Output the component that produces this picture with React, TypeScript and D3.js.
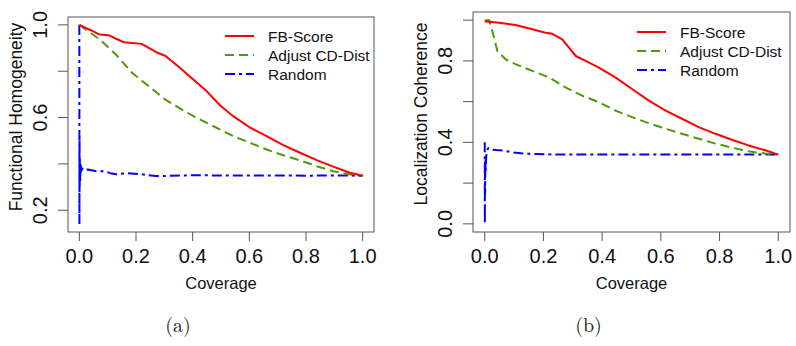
import React from "react";
import * as d3 from "d3";

// ---- panel (a): Functional Homogeneity ----
const fbAX = [0, 0.039, 0.068, 0.107, 0.13, 0.157, 0.22, 0.273, 0.303, 0.356, 0.403, 0.45, 0.497, 0.543, 0.602, 0.661, 0.72, 0.779, 0.838, 0.896, 0.955, 1.0];
const fbAY = [1.0, 0.978, 0.96, 0.954, 0.94, 0.925, 0.918, 0.881, 0.867, 0.814, 0.763, 0.713, 0.652, 0.606, 0.557, 0.52, 0.481, 0.448, 0.416, 0.388, 0.362, 0.349];
const cdAX = [0, 0.074, 0.13, 0.187, 0.245, 0.304, 0.362, 0.403, 0.484, 0.543, 0.602, 0.661, 0.72, 0.779, 0.838, 0.896, 0.955, 1.0];
const cdAY = [1.0, 0.935, 0.871, 0.792, 0.735, 0.677, 0.634, 0.606, 0.556, 0.52, 0.491, 0.462, 0.437, 0.415, 0.39, 0.368, 0.354, 0.349];
const rnAX = [0, 0.0004, 0.0008, 0.0012, 0.002, 0.003, 0.005, 0.007, 0.01, 0.02, 0.03, 0.06, 0.09, 0.11, 0.13, 0.17, 0.22, 0.27, 0.3, 0.4, 0.5, 0.6, 0.7, 0.8, 0.9, 1.0];
const rnAY = [1.0, 0.14, 0.52, 0.3, 0.42, 0.33, 0.395, 0.36, 0.38, 0.372, 0.376, 0.368, 0.368, 0.36, 0.355, 0.36, 0.355, 0.348, 0.348, 0.351, 0.35, 0.35, 0.35, 0.349, 0.35, 0.349];

// ---- panel (b): Localization Coherence ----
const fbBX = [0, 0.049, 0.105, 0.162, 0.207, 0.23, 0.264, 0.287, 0.31, 0.343, 0.389, 0.445, 0.502, 0.559, 0.616, 0.672, 0.729, 0.786, 0.842, 0.899, 0.956, 1.0];
const fbBY = [0.995, 0.987, 0.976, 0.955, 0.938, 0.933, 0.906, 0.865, 0.824, 0.8, 0.767, 0.719, 0.662, 0.605, 0.556, 0.516, 0.475, 0.442, 0.413, 0.385, 0.361, 0.34];
const cdBX = [0, 0.015, 0.026, 0.043, 0.071, 0.105, 0.162, 0.219, 0.275, 0.332, 0.389, 0.445, 0.502, 0.559, 0.616, 0.672, 0.729, 0.786, 0.842, 0.899, 0.956, 1.0];
const cdBY = [1.0, 1.0, 0.946, 0.849, 0.808, 0.784, 0.751, 0.719, 0.67, 0.629, 0.597, 0.556, 0.524, 0.494, 0.467, 0.442, 0.418, 0.394, 0.374, 0.356, 0.345, 0.34];
const rnBX = [0, 0.0004, 0.0008, 0.0015, 0.002, 0.003, 0.005, 0.008, 0.012, 0.02, 0.04, 0.06, 0.08, 0.1, 0.13, 0.18, 0.25, 0.3, 0.4, 0.5, 0.6, 0.7, 0.8, 0.9, 1.0];
const rnBY = [0.4, 0.0, 0.3, 0.15, 0.32, 0.25, 0.33, 0.36, 0.372, 0.365, 0.362, 0.36, 0.355, 0.35, 0.345, 0.343, 0.34, 0.341, 0.34, 0.341, 0.34, 0.34, 0.34, 0.34, 0.34];

const xTicks = [0, 0.2, 0.4, 0.6, 0.8, 1.0];
const yTicksA = [0.2, 0.4, 0.6, 0.8, 1.0];
const yLabelsA = ["0.2", "", "0.6", "", "1.0"];
const yTicksB = [0.0, 0.2, 0.4, 0.6, 0.8, 1.0];
const yLabelsB = ["0.0", "", "0.4", "", "0.8", ""];
const seriesNames = ["FB-Score", "Adjust CD-Dist", "Random"];

const COLORS = ["#ff0000", "#4e9a06", "#0000ff"];
const DASHES = [null, "9 5", "10 4 3 4"];
const SANS = "'Liberation Sans', Arial, sans-serif";
const AXIS = "#555";

const zip = (xs: number[], ys: number[]) => xs.map((x, i) => [x, ys[i]] as [number, number]);

function Panel({ box, yDomain, yTicks, yLabels, yTitle, yTitleY, series, legend, caption }: any) {
  const x = d3.scaleLinear().domain([-0.04, 1.04]).range([box.left, box.right]);
  const y = d3.scaleLinear().domain(yDomain).range([box.bottom, box.top]);
  const line = d3.line<[number, number]>().x((d) => x(d[0])).y((d) => y(d[1]));
  const cx = (box.left + box.right) / 2;

  return (
    <g>
      {/* plot box */}
      <rect x={box.left} y={box.top} width={box.right - box.left} height={box.bottom - box.top}
        fill="none" stroke={AXIS} strokeWidth={1} />

      {/* series, drawn bottom-up so red sits on top */}
      {[2, 1, 0].map((i) => (
        <path key={i} d={line(series[i]) || ""} fill="none" stroke={COLORS[i]} strokeWidth={2}
          strokeDasharray={DASHES[i] || undefined} strokeLinejoin="round" />
      ))}

      {/* x axis */}
      {xTicks.map((t) => (
        <g key={t}>
          <line x1={x(t)} x2={x(t)} y1={box.bottom} y2={box.bottom + 9} stroke={AXIS} />
          <text x={x(t)} y={box.bottom + 31} textAnchor="middle" fontSize={20} fontFamily={SANS} fill="#111">
            {d3.format(".1f")(t)}
          </text>
        </g>
      ))}
      <text x={cx} y={box.bottom + 57} textAnchor="middle" fontSize={16.5} fontFamily={SANS} fill="#111">
        Coverage
      </text>

      {/* y axis */}
      {yTicks.map((t: number, i: number) => (
        <g key={t}>
          <line x1={box.left - 10} x2={box.left} y1={y(t)} y2={y(t)} stroke={AXIS} />
          {yLabels[i] && (
            <text transform={`translate(${box.left - 21},${y(t)}) rotate(-90)`} textAnchor="middle"
              fontSize={20} fontFamily={SANS} fill="#111">
              {yLabels[i]}
            </text>
          )}
        </g>
      ))}
      <text transform={`translate(${box.left - 46},${yTitleY}) rotate(-90)`} textAnchor="middle"
        fontSize={17.5} fontFamily={SANS} fill="#111">
        {yTitle}
      </text>

      {/* legend */}
      {seriesNames.map((name, i) => (
        <g key={name}>
          <line x1={legend.x} x2={legend.x + 29} y1={legend.y + i * 19} y2={legend.y + i * 19}
            stroke={COLORS[i]} strokeWidth={2} strokeDasharray={DASHES[i] || undefined} />
          <text x={legend.x + 43} y={legend.y + i * 19} dominantBaseline="central" fontSize={15.5}
            fontFamily={SANS} fill="#111">
            {name}
          </text>
        </g>
      ))}

      <text x={cx - 43} y={332} textAnchor="middle" fontSize={20}
        fontFamily="'Latin Modern Roman', 'Liberation Serif', serif" fill="#222">
        {caption}
      </text>
    </g>
  );
}

export default function App() {
  return (
    <div style={{ position: "absolute", left: 0, top: 0 }}>
      <svg width={796} height={346} style={{ display: "block", background: "#fff" }}>
        <Panel
          box={{ left: 68, right: 374, top: 17, bottom: 232 }}
          yDomain={[0.106, 1.034]}
          yTicks={yTicksA}
          yLabels={yLabelsA}
          yTitle="Functional Homogeneity"
          yTitleY={117}
          series={[zip(fbAX, fbAY), zip(cdAX, cdAY), zip(rnAX, rnAY)]}
          legend={{ x: 225, y: 36 }}
          caption="(a)"
        />
        <Panel
          box={{ left: 473, right: 790, top: 12, bottom: 232 }}
          yDomain={[-0.04, 1.04]}
          yTicks={yTicksB}
          yLabels={yLabelsB}
          yTitle="Localization Coherence"
          yTitleY={114}
          series={[zip(fbBX, fbBY), zip(cdBX, cdBY), zip(rnBX, rnBY)]}
          legend={{ x: 637, y: 32 }}
          caption="(b)"
        />
      </svg>
    </div>
  );
}
